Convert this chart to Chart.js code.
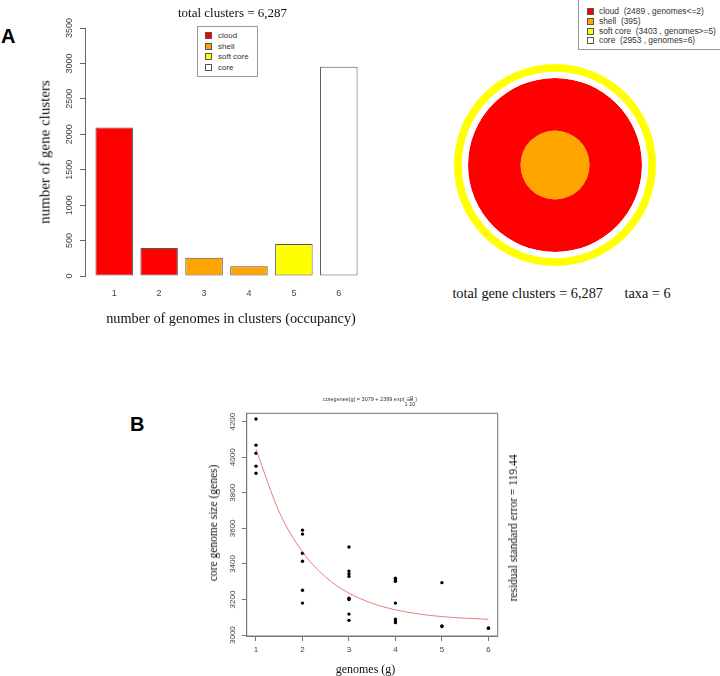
<!DOCTYPE html>
<html>
<head>
<meta charset="utf-8">
<script src="https://cdn.jsdelivr.net/npm/chart.js@4.4.1/dist/chart.umd.min.js"></script>
<style>
body{margin:0;width:720px;height:676px;overflow:hidden;background:#fff;position:relative;font-family:"Liberation Sans",Arial,sans-serif}
canvas{position:absolute}
.t{position:absolute;white-space:nowrap;transform:translate(-50%,-50%);font-family:"Liberation Serif",serif;color:#111}
.t.r{transform:translate(-50%,-50%) rotate(-90deg)}
.tag{position:absolute;font:bold 20px "Liberation Sans",Arial,sans-serif;color:#000}
.lg{position:absolute;border:1px solid #999;background:#fff;font:8px "Liberation Sans",Arial,sans-serif;color:#333;box-sizing:border-box}
.lg div{white-space:nowrap}
.lg span{display:inline-block;width:5px;height:5px;border:1px solid #555;vertical-align:-1px}
.frac{display:inline-flex;flex-direction:column;align-items:center;vertical-align:middle;line-height:6px}
.frac b{font-weight:normal;border-bottom:0.5px solid #444}
</style>
</head>
<body>
<div class="tag" style="left:1px;top:25px">A</div>
<div class="tag" style="left:130px;top:413px">B</div>

<canvas id="bars" width="380" height="310" style="left:0;top:0"></canvas>
<canvas id="rings" width="202" height="202" style="left:454px;top:64px"></canvas>
<canvas id="core" width="320" height="276" style="left:200px;top:400px"></canvas>

<div id="barTitle" class="t" style="left:232.5px;top:13px;font-size:13px"></div>
<div class="t r" style="left:45px;top:152px;font-size:15px">number of gene clusters</div>
<div class="t" style="left:231px;top:318px;font-size:14.3px">number of genomes in clusters (occupancy)</div>
<div id="barLegend" class="lg" style="left:197px;top:26px;width:61px;height:51px;padding:4px 0 0 7px"></div>

<div id="ringLegend" class="lg" style="left:578px;top:-1px;width:150px;height:51px;padding:7px 0 0 8px;font-size:8.4px"></div>
<div id="ringTitle" class="t" style="left:561.5px;top:293px;font-size:14.3px"></div>

<div class="t" style="left:370px;top:400px;font:5.5px 'Liberation Sans',Arial,sans-serif;color:#333">coregenes(g) = 3079 + 2399 exp(<span class="frac"><b>&minus;g</b><span>1.10</span></span>)</div>
<div class="t r" style="left:213px;top:523px;font-size:11.5px">core genome size (genes)</div>
<div class="t r" style="left:513px;top:528px;font-size:11.5px">residual standard error = 119.44</div>
<div class="t" style="left:365.5px;top:669px;font-size:12px">genomes (g)</div>

<script>
// panel A: clusters by occupancy
const occupancy = [1, 2, 3, 4, 5, 6];
const clusterCounts = [2095, 394, 256, 139, 450, 2953];
const barColors = ['#ff0000', '#ff0000', '#ffa500', '#ffa500', '#ffff00', '#ffffff'];
const barTicks = [0, 500, 1000, 1500, 2000, 2500, 3000, 3500];

// pangenome classes
const classNames = ['cloud', 'shell', 'soft core', 'core'];
const classColors = ['#ff0000', '#ffa500', '#ffff00', '#ffffff'];
const classTotals = [2489, 395, 3403, 2953];
const classRules = ['genomes<=2', '', 'genomes>=5', 'genomes=6'];
const ringOrder = [2, 3, 0, 1]; // outer to inner

// panel B: core genome size vs genomes sampled
const genomes = [1, 1, 1, 1, 1,
                 2, 2, 2, 2, 2, 2,
                 3, 3, 3, 3, 3, 3, 3, 3,
                 4, 4, 4, 4, 4, 4, 4,
                 5, 5, 5,
                 6, 6];
const coreSize = [4215, 4068, 4022, 3950, 3910,
                  3590, 3568, 3460, 3415, 3252, 3180,
                  3495, 3360, 3345, 3330, 3207, 3200, 3118, 3083,
                  3320, 3310, 3303, 3180, 3090, 3080, 3070,
                  3295, 3052, 3048,
                  3040, 3038];
const fitG = [1, 1.5, 2, 2.5, 3, 3.5, 4, 4.5, 5, 5.5, 6];
const fitCore = [4045, 3692, 3468, 3326, 3236, 3179, 3142, 3119, 3104, 3095, 3089];
const coreTicks = [3000, 3200, 3400, 3600, 3800, 4000, 4200];

const total = clusterCounts.reduce((a, b) => a + b, 0);
document.getElementById('barTitle').textContent = 'total clusters = ' + total.toLocaleString('en-US');
document.getElementById('ringTitle').innerHTML =
    'total gene clusters = ' + total.toLocaleString('en-US') + '&nbsp;&nbsp;&nbsp;&nbsp;&nbsp;&nbsp;taxa = ' + occupancy.length;

document.getElementById('barLegend').innerHTML = classNames.map((n, i) =>
    `<div style="height:10.5px;line-height:10.5px"><span style="background:${classColors[i]};margin-right:6px"></span>${n}</div>`).join('');
document.getElementById('ringLegend').innerHTML = classNames.map((n, i) => {
    let txt = n + '&nbsp; (' + classTotals[i] + (classRules[i] ? ' , ' + classRules[i].replace('<', '&lt;') : '') + ')';
    return `<div style="height:9.8px;line-height:9.8px"><span style="background:${classColors[i]};margin-right:5px"></span>${txt}</div>`;
}).join('');

// y tick labels drawn rotated, as R does
const vLabels = {
    id: 'vLabels',
    afterDraw(chart, args, opts) {
        const s = chart.scales.y, ctx = chart.ctx;
        ctx.save();
        ctx.font = opts.font;
        ctx.fillStyle = '#444';
        ctx.textAlign = 'center';
        ctx.textBaseline = 'middle';
        s.ticks.forEach(t => {
            ctx.save();
            ctx.translate(s.right - opts.offset, s.getPixelForValue(t.value));
            ctx.rotate(-Math.PI / 2);
            ctx.fillText(String(t.value), 0, 0);
            ctx.restore();
        });
        ctx.restore();
    }
};

const frame = {
    id: 'frame',
    afterDraw(chart) {
        const {ctx, chartArea: a} = chart;
        ctx.save();
        ctx.strokeStyle = '#777';
        ctx.lineWidth = 1;
        ctx.strokeRect(a.left, a.top, a.right - a.left, a.bottom - a.top);
        ctx.restore();
    }
};

Chart.defaults.font.family = '"Liberation Sans", Arial, sans-serif';

new Chart(document.getElementById('bars'), {
    type: 'bar',
    data: {
        datasets: [{
            data: occupancy.map((g, i) => ({x: g, y: clusterCounts[i]})),
            backgroundColor: barColors,
            borderColor: '#555',
            borderWidth: 1,
            borderSkipped: false,
            barPercentage: 0.835,
            categoryPercentage: 1
        }]
    },
    options: {
        responsive: false,
        animation: false,
        events: [],
        layout: {padding: {top: 28, right: 12, left: 0, bottom: 0}},
        plugins: {
            legend: {display: false},
            tooltip: {enabled: false},
            vLabels: {font: '9px "Liberation Sans"', offset: 15}
        },
        scales: {
            x: {
                type: 'linear', min: 0.35, max: 6.65, offset: false,
                afterBuildTicks: s => { s.ticks = occupancy.map(v => ({value: v})); },
                grid: {display: false, offset: false},
                border: {display: false},
                ticks: {padding: 4, font: {size: 9}, color: '#444'},
                afterFit: s => { s.height = 34; }
            },
            y: {
                min: 0, max: 3500,
                afterBuildTicks: s => { s.ticks = barTicks.map(v => ({value: v})); },
                grid: {drawOnChartArea: false, tickLength: 5, color: '#666'},
                border: {color: '#666'},
                ticks: {display: false},
                afterFit: s => { s.width = 85; }
            }
        }
    },
    plugins: [vLabels]
});

new Chart(document.getElementById('rings'), {
    type: 'doughnut',
    data: {
        labels: ['all'],
        datasets: ringOrder.map((k, i) => ({
            label: classNames[k],
            data: [classTotals[k]],
            backgroundColor: classColors[k],
            borderWidth: 0,
            weight: [7.7, 6.3, 52.5, 34.5][i]
        }))
    },
    options: {
        responsive: false,
        animation: false,
        events: [],
        cutout: 0,
        plugins: {legend: {display: false}, tooltip: {enabled: false}}
    }
});

new Chart(document.getElementById('core'), {
    type: 'scatter',
    data: {
        datasets: [{
            type: 'line',
            data: fitG.map((g, i) => ({x: g, y: fitCore[i]})),
            borderColor: 'rgba(235,80,80,0.75)',
            borderWidth: 1,
            pointRadius: 0,
            cubicInterpolationMode: 'monotone',
            fill: false
        }, {
            data: genomes.map((g, i) => ({x: g, y: coreSize[i]})),
            backgroundColor: '#000',
            borderWidth: 0,
            pointRadius: 1.7
        }]
    },
    options: {
        responsive: false,
        animation: false,
        events: [],
        layout: {padding: {top: 13.3, right: 22.3, left: 0, bottom: 0}},
        plugins: {
            legend: {display: false},
            tooltip: {enabled: false},
            vLabels: {font: '8px "Liberation Sans"', offset: 14}
        },
        scales: {
            x: {
                type: 'linear', min: 0.8, max: 6.2,
                ticks: {stepSize: 1, includeBounds: false, padding: 4, font: {size: 8}, color: '#444'},
                grid: {drawOnChartArea: false, tickLength: 5, color: '#777'},
                border: {color: '#777'},
                afterFit: s => { s.height = 40; }
            },
            y: {
                min: 2995, max: 4247,
                afterBuildTicks: s => { s.ticks = coreTicks.map(v => ({value: v})); },
                grid: {drawOnChartArea: false, tickLength: 5, color: '#777'},
                border: {color: '#777'},
                ticks: {display: false},
                afterFit: s => { s.width = 46.7; }
            }
        }
    },
    plugins: [vLabels, frame]
});
</script>
</body>
</html>
